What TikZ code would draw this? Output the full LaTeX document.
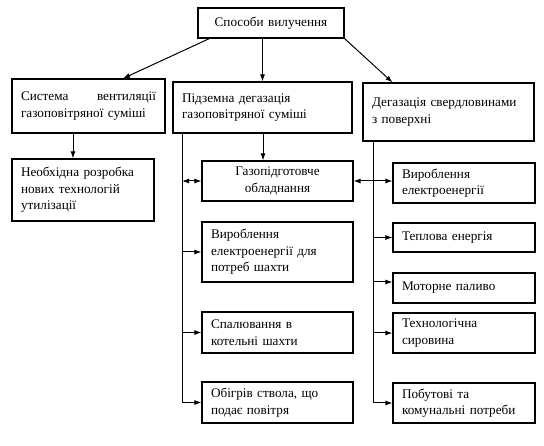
\documentclass[tikz,border=0pt]{standalone}
\usepackage{fontspec}
\setmainfont{Liberation Serif}
\usetikzlibrary{arrows.meta,calc}
\begin{document}
\begin{tikzpicture}[x=1pt,y=-1pt,
  box/.style={draw, line width=1.1pt, rectangle, inner xsep=9pt, inner ysep=2pt,
    align=left, font=\fontsize{13.2}{16.5}\selectfont},
  arr/.style={line width=1pt, -{Latex[length=7pt,width=5pt]}},
  darr/.style={line width=1pt, {Latex[length=7pt,width=5pt]}-{Latex[length=7pt,width=5pt]}}]
\useasboundingbox (0,0) rectangle (544,446);

\node[box, align=center, minimum width=146pt, minimum height=30pt, text width=128pt] (top) at (271,23) {Способи вилучення};

\node[box, minimum width=153pt, minimum height=54pt, text width=135pt] (sys) at (88.5,106) {Система\hfill вентиляції\\газоповітряної суміші};
\node[box, minimum width=179pt, minimum height=51pt, text width=161pt] (mid) at (262.5,107.5) {Підземна дегазація\\газоповітряної суміші};
\node[box, minimum width=171pt, minimum height=58pt, text width=153pt] (right) at (448.5,112) {Дегазація свердловинами\\з поверхні};

\node[box, minimum width=142pt, minimum height=62pt, text width=124pt] (need) at (83,190) {Необхідна розробка\\нових технологій\\утилізації};

\node[box, align=center, minimum width=151pt, minimum height=40pt, text width=133pt] (gas) at (277.5,181) {Газопідготовче\\обладнання};
\node[box, minimum width=151pt, minimum height=60pt, text width=133pt] (gen) at (277.5,252) {Вироблення\\електроенергії для\\потреб шахти};
\node[box, minimum width=151pt, minimum height=41pt, text width=133pt] (burn) at (277.5,332.5) {Спалювання в\\котельні шахти};
\node[box, minimum width=151pt, minimum height=41pt, text width=133pt] (heat) at (277.5,402.5) {Обігрів ствола, що\\подає повітря};

\node[box, minimum width=142pt, minimum height=40pt, text width=124pt] (rgen) at (464,183) {Вироблення\\електроенергії};
\node[box, minimum width=142pt, minimum height=29pt, text width=124pt] (therm) at (464,237.5) {Теплова енергія};
\node[box, minimum width=142pt, minimum height=30pt, text width=124pt] (motor) at (464,288) {Моторне паливо};
\node[box, minimum width=142pt, minimum height=40pt, text width=124pt] (tech) at (464,333) {Технологічна\\сировина};
\node[box, minimum width=142pt, minimum height=40pt, text width=124pt] (home) at (464,403) {Побутові та\\комунальні потреби};

% top level arrows
\draw[arr] ($(top.south west)+(12,0)$) -- ($(sys.north)+(34.5,0)$);
\draw[arr] (top.south -| mid.north) -- (mid.north);
\draw[arr] (top.south east) -- ($(right.north)+(-56,0)$);

% left column
\draw[arr] ($(sys.south)+(-15.5,0)$) -- ($(need.north)+(-10,0)$);

% middle column
\draw[arr] ($(mid.south)+(0.5,0)$) -- ($(gas.north)+(-14.5,0)$);
\coordinate (tl) at ($(mid.south)+(-80.5,0)$);
\draw[arr] (tl) |- (heat.west);
\draw[darr] (tl |- gas.west) -- (gas.west);
\draw[arr] (tl |- gen.west) -- (gen.west);
\draw[arr] (tl |- burn.west) -- (burn.west);

% right column
\coordinate (tr) at ($(right.south)+(-75.5,0)$);
\draw[arr] (tr) |- (home.west);
\draw[darr] (gas.east) -- (gas.east -| rgen.west);
\draw[arr] (tr |- therm.west) -- (therm.west);
\draw[arr] ($(tr |- motor.west)+(0,-6)$) -- ($(motor.west)+(0,-6)$);
\draw[arr] (tr |- tech.west) -- (tech.west);
\end{tikzpicture}
\end{document}
